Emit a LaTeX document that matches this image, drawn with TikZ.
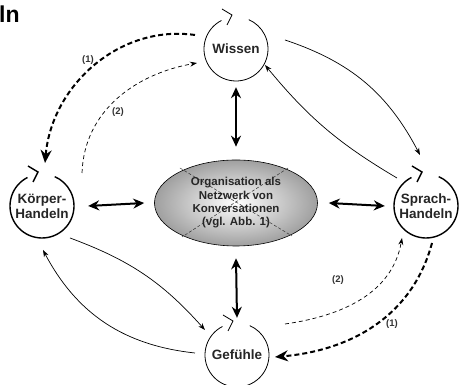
\documentclass[tikz,border=0pt]{standalone}
\usepackage{fontspec}
\setmainfont{Liberation Sans}
\usetikzlibrary{arrows.meta,shapes.geometric,calc}
\tikzset{
  loopmark/.pic={
    \draw (117:32) arc[start angle=117, end angle=426.6, radius=32];
    \draw[line join=miter] (-14,40) -- (-4,34) -- (-9,24);
  }
}
\begin{document}
\begin{tikzpicture}[x=1pt,y=1pt,
  circlenode/.style={circle, minimum size=64pt, inner sep=0pt, font=\fontsize{13.5}{15}\selectfont\bfseries, align=center, text=black!85},
  dbl/.style={line width=2pt, {Stealth[length=11pt,width=10pt]}-{Stealth[length=11pt,width=10pt]}},
  flow/.style={line width=0.7pt, -{Stealth[length=7pt,width=5pt]}},
  dashbig/.style={line width=2pt, dash pattern=on 5pt off 3pt, -{Stealth[length=13pt,width=11pt]}},
  dashsmall/.style={line width=0.7pt, dash pattern=on 4pt off 3pt, -{Stealth[length=7pt,width=5pt]}},
  lbl/.style={font=\fontsize{9.5}{11}\selectfont\bfseries, text=black!80},
  xline/.style={line width=0.5pt, dash pattern=on 3pt off 2pt, black!80}
]
\useasboundingbox (0,0) rectangle (459,385);

\node[anchor=base west, inner sep=0pt, font=\fontsize{23}{26}\selectfont\bfseries] (ttl) at (-1,362) {ln};

\node[circlenode] (W) at (236,336) {Wissen};
\node[circlenode] (K) at (42,179) {Körper-\\Handeln};
\node[circlenode] (S) at (426,179) {Sprach-\\Handeln};
\node[circlenode] (G) at (237,30) {Gefühle};

\pic[line width=0.8pt] at (W) {loopmark};
\pic[line width=1.4pt] at (K) {loopmark};
\pic[line width=1.4pt] at (S) {loopmark};
\pic[line width=0.8pt] at (G) {loopmark};

\node[ellipse, draw, line width=0.6pt, minimum width=163pt, minimum height=86pt, inner color=white, outer color=gray!75, shade] (E) at (236,182) {};
\draw[xline] ([shift={(-56,35)}]E.center) -- ([shift={(56,-33)}]E.center);
\draw[xline] ([shift={(52,35)}]E.center) -- ([shift={(-54,-34)}]E.center);
\node[font=\fontsize{11.5}{13.3}\selectfont\bfseries, align=center, text=black!85] (Et) at (E) {Organisation als\\Netzwerk von\\Konversationen\\(vgl. Abb. 1)};

\draw[dbl] ([yshift=-6pt]W.south) -- ([yshift=13pt]E.north);
\draw[dbl] ([yshift=-12pt]E.south) -- ([yshift=5pt]G.north);
\draw[dbl] ([xshift=14pt]K.east) -- ([xshift=-10pt]E.west);
\draw[dbl] ([xshift=11pt]E.east) -- ([xshift=-9pt]S.west);

\draw[flow] ([shift={(49,9)}]W.center) to[bend left=22] ([shift={(-6,51)}]S.center);
\draw[flow] ([shift={(-29,28)}]S.center) to[bend left=10] ([shift={(29,-16)}]W.center);
\draw[flow] ([shift={(28,-32)}]K.center) to[bend left=14] ([shift={(-32,25)}]G.center);
\draw[flow] ([shift={(-42,2)}]G.center) to[bend left=28] ([shift={(1,-44)}]K.center);

\draw[dashbig] ([shift={(-41,14)}]W.center) to[out=172,in=85] ([shift={(3,43)}]K.center);
\draw[dashsmall] ([shift={(40,33)}]K.center) to[out=88,in=190] ([shift={(-39,-14)}]W.center);
\draw[dashbig] ([shift={(6,-37)}]S.center) to[out=-105,in=5] ([shift={(38,-2)}]G.center);
\draw[dashsmall] ([shift={(48,31)}]G.center) to[out=8,in=-100] ([shift={(-24,-32)}]S.center);

\node[lbl] (l1a) at (88,325) {(1)};
\node[lbl] (l2a) at (118,273) {(2)};
\node[lbl] (l2b) at (338,105) {(2)};
\node[lbl] (l1b) at (392,61) {(1)};
\end{tikzpicture}
\end{document}
